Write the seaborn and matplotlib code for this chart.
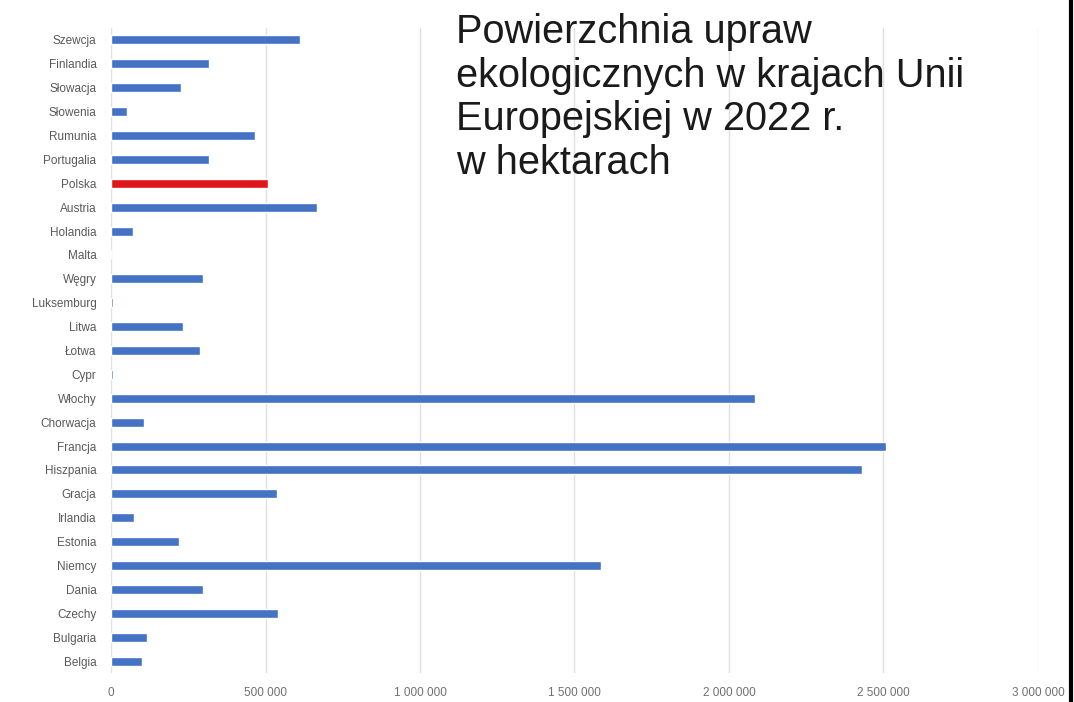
import matplotlib
matplotlib.use("Agg")
import matplotlib.pyplot as plt
import seaborn as sns
from matplotlib.ticker import FuncFormatter, MultipleLocator

# Powierzchnia upraw ekologicznych w UE, 2022 (ha)
kraje = ["Szewcja", "Finlandia", "Słowacja", "Słowenia", "Rumunia", "Portugalia",
         "Polska", "Austria", "Holandia", "Malta", "Węgry", "Luksemburg", "Litwa",
         "Łotwa", "Cypr", "Włochy", "Chorwacja", "Francja", "Hiszpania", "Gracja",
         "Irlandia", "Estonia", "Niemcy", "Dania", "Czechy", "Bulgaria", "Belgia"]
hektary = [610000, 316000, 226000, 52000, 465000, 316000,
           507000, 668000, 71000, 1000, 297000, 6000, 232000,
           287000, 7000, 2084000, 106000, 2507000, 2430000, 536000,
           74000, 219000, 1587000, 297000, 539000, 116000, 100000]

niebieski = "#4472C4"
czerwony = "#E0161B"
kolory = [czerwony if k == "Polska" else niebieski for k in kraje]

sns.set_theme(style="white")
plt.rcParams["font.family"] = ["Liberation Sans", "DejaVu Sans"]

fig = plt.figure(figsize=(10.74, 7.02), dpi=100)
ax = fig.add_axes([0.1034, 0.0413, 0.863, 0.9188])

sns.barplot(x=hektary, y=kraje, hue=kraje, palette=kolory, legend=False,
            orient="h", width=0.38, saturation=1, ax=ax)

ax.set_xlim(0, 3000000)
ax.set_ylim(len(kraje) - 0.5, -0.5)
ax.xaxis.set_major_locator(MultipleLocator(500000))
ax.xaxis.set_major_formatter(FuncFormatter(lambda v, p: f"{v:,.0f}".replace(",", " ")))
ax.grid(axis="x", color="#e0e0e0", linewidth=1)
ax.set_axisbelow(True)
for s in ax.spines.values():
    s.set_visible(False)
ax.tick_params(axis="x", length=0, pad=10, labelsize=8.5, labelcolor="#707070")
ax.tick_params(axis="y", length=0, pad=10.5, labelsize=8.5, labelcolor="#595959")
ax.set_xlabel("")
ax.set_ylabel("")

fig.text(0.425, 0.9815,
         "Powierzchnia upraw\nekologicznych w krajach Unii\nEuropejskiej w 2022 r.\nw hektarach",
         ha="left", va="top", fontsize=28.6, color="#1a1a1a", linespacing=1.19)

# czarna krawędź z prawej strony
fig.add_artist(plt.Line2D([0.9975, 0.9975], [0, 1], color="black", linewidth=3,
                          transform=fig.transFigure))

fig.savefig("out.png", dpi=100)
